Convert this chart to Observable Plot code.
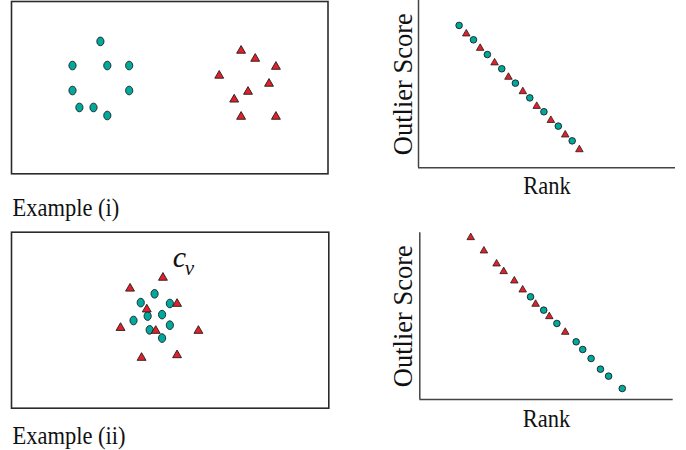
<!DOCTYPE html>
<html>
<head>
<meta charset="utf-8">
<script src="https://cdn.jsdelivr.net/npm/d3@7"></script>
<script src="https://cdn.jsdelivr.net/npm/@observablehq/plot@0.6"></script>
<style>
  html, body { margin: 0; padding: 0; background: #fff; }
  #root { position: relative; width: 686px; height: 450px; background: #fff; font-family: "Liberation Serif", "Times New Roman", serif; }
  .panel { position: absolute; }
</style>
</head>
<body>
<div id="root">
  <div class="panel" id="p1" style="left:0px;top:0px"></div>
  <div class="panel" id="p2" style="left:360px;top:0px"></div>
  <div class="panel" id="p3" style="left:0px;top:225px"></div>
  <div class="panel" id="p4" style="left:360px;top:225px"></div>
</div>
<script>
// ---------- Example (i): scatter of two separated groups ----------
const ex1CircleX = [3.09, 2.12, 3.33, 4.09, 2.12, 4.09, 2.36, 2.85, 3.33];
const ex1CircleY = [4.61, 3.77, 3.77, 3.77, 2.90, 2.90, 2.31, 2.31, 2.03];
const ex1TriX    = [7.98, 8.47, 9.19, 7.22, 8.95, 8.22, 7.74, 7.98, 9.19];
const ex1TriY    = [4.33, 4.05, 3.77, 3.46, 3.18, 2.90, 2.63, 2.03, 2.03];

// ---------- Example (i): ranked outlier scores ----------
const ex1RankPos = [1.58, 1.86, 2.14, 2.40, 2.68, 2.96, 3.24, 3.50, 3.77, 4.06, 4.33, 4.60, 4.88, 5.15, 5.44, 5.71, 5.98, 6.26];
const ex1Score   = [8.51, 8.07, 7.65, 7.21, 6.77, 6.34, 5.92, 5.48, 5.06, 4.62, 4.18, 3.74, 3.35, 2.90, 2.49, 2.03, 1.61, 1.15];
const ex1Shape   = ["C","T","C","T","C","T","C","T","C","T","C","T","C","T","C","T","C","T"];

// ---------- Example (ii): mixed cluster ----------
const ex2CircleX = [4.96, 4.48, 5.49, 4.72, 5.22, 4.23, 5.49, 4.79, 5.22];
const ex2CircleY = [3.90, 3.60, 3.57, 3.14, 3.19, 2.99, 2.83, 2.67, 2.39];
const ex2TriX    = [5.25, 4.11, 5.74, 4.69, 3.78, 5.00, 6.48, 4.51, 5.74];
const ex2TriY    = [4.49, 4.12, 3.60, 3.41, 2.78, 2.68, 2.68, 1.76, 1.85];

// ---------- Example (ii): ranked outlier scores ----------
const ex2RankPos = [2.01, 2.53, 3.03, 3.31, 3.73, 4.06, 4.37, 4.57, 4.89, 5.11, 5.41, 5.74, 6.17, 6.43, 6.76, 7.13, 7.45, 7.99];
const ex2Score   = [9.78, 8.98, 8.20, 7.74, 7.18, 6.64, 6.16, 5.78, 5.36, 5.04, 4.56, 4.10, 3.46, 3.00, 2.46, 1.82, 1.40, 0.66];
const ex2Shape   = ["T","T","T","T","T","T","C","T","C","T","C","T","C","C","C","C","C","C"];

// labels
const captions = ["Example (i)", "Example (ii)"];
const xLabel = "Rank";
const yLabel = "Outlier Score";
const centroidLabel = ["c", "v"];
const centroidPos = {c: [5.59, 4.80], v: [6.01, 4.55]};

const TEAL = "#00a99d";
const RED = "#e3202a";
const EDGE = "#1e1e1e";
const INK = "#111111";
const FONT = "Liberation Serif, Times New Roman, serif";

// slightly tall ellipse symbol (markers in the scatter panels are oval)
const ellipse = {
  draw(ctx, size) {
    const r = Math.sqrt(size / Math.PI);
    const rx = r * 0.9, ry = r * 1.08, k = 0.5523;
    ctx.moveTo(rx, 0);
    ctx.bezierCurveTo(rx, k * ry, k * rx, ry, 0, ry);
    ctx.bezierCurveTo(-k * rx, ry, -rx, k * ry, -rx, 0);
    ctx.bezierCurveTo(-rx, -k * ry, -k * rx, -ry, 0, -ry);
    ctx.bezierCurveTo(k * rx, -ry, rx, -k * ry, rx, 0);
    ctx.closePath();
  }
};

const zip = (xs, ys) => xs.map((x, i) => ({x, y: ys[i]}));
const ranked = (xs, ys, ss) => xs.map((x, i) => ({x, y: ys[i], s: ss[i]}));

function scatterPanel({circX, circY, triX, triY, caption, captionDy, margins, height, extra = []}) {
  return Plot.plot({
    width: 340,
    height,
    ...margins,
    x: {domain: [0, 11], axis: null},
    y: {domain: [0, 6], axis: null},
    style: {background: "transparent", overflow: "visible", fontFamily: FONT},
    marks: [
      Plot.frame({stroke: "#2b2b2b", strokeWidth: 1.6}),
      Plot.dot(zip(circX, circY), {x: "x", y: "y", r: 4, symbol: ellipse, fill: TEAL, stroke: EDGE, strokeWidth: 0.9}),
      Plot.dot(zip(triX, triY), {x: "x", y: "y", r: 3.3, symbol: "triangle", fill: RED, stroke: EDGE, strokeWidth: 0.9, dy: 1.2}),
      Plot.text([caption], {frameAnchor: "bottom-left", textAnchor: "start", lineAnchor: "bottom", dx: 1, dy: captionDy, fontSize: 25, fill: INK, className: "narrow"}),
      ...extra
    ]
  });
}

function rankPanel({xs, ys, ss, margins, rankDy, scoreDx}) {
  const pts = ranked(xs, ys, ss);
  return Plot.plot({
    width: 326,
    height: 225,
    ...margins,
    x: {domain: [0, 10], axis: null},
    y: {domain: [0, 10], axis: null},
    style: {background: "transparent", overflow: "visible", fontFamily: FONT},
    marks: [
      Plot.ruleX([0], {stroke: "#444", strokeWidth: 1.5}),
      Plot.ruleY([0], {stroke: "#444", strokeWidth: 1.5}),
      Plot.dot(pts.filter(d => d.s === "C"), {x: "x", y: "y", r: 3.3, symbol: "circle", fill: TEAL, stroke: EDGE, strokeWidth: 0.9}),
      Plot.dot(pts.filter(d => d.s === "T"), {x: "x", y: "y", r: 2.8, symbol: "triangle", fill: RED, stroke: EDGE, strokeWidth: 0.8, dy: 1}),
      Plot.text([xLabel], {frameAnchor: "bottom", textAnchor: "middle", lineAnchor: "bottom", dy: rankDy, fontSize: 25, fill: INK, className: "narrow"}),
      Plot.text([yLabel], {frameAnchor: "left", textAnchor: "middle", lineAnchor: "bottom", rotate: -90, dx: scoreDx, fontSize: 26.5, fill: INK})
    ]
  });
}

document.getElementById("p1").append(scatterPanel({
  circX: ex1CircleX, circY: ex1CircleY, triX: ex1TriX, triY: ex1TriY,
  caption: captions[0], captionDy: 41.7, height: 225,
  margins: {marginLeft: 11, marginRight: 12.5, marginTop: 1, marginBottom: 51.7}
}));

document.getElementById("p3").append(scatterPanel({
  circX: ex2CircleX, circY: ex2CircleY, triX: ex2TriX, triY: ex2TriY,
  caption: captions[1], captionDy: 35.3, height: 225,
  margins: {marginLeft: 11, marginRight: 11.7, marginTop: 6.7, marginBottom: 42.3},
  extra: [
    Plot.text([centroidLabel[0]], {x: () => centroidPos.c[0], y: () => centroidPos.c[1], textAnchor: "start", lineAnchor: "bottom", fontSize: 30, fontStyle: "italic", fill: INK}),
    Plot.text([centroidLabel[1]], {x: () => centroidPos.v[0], y: () => centroidPos.v[1], textAnchor: "start", lineAnchor: "bottom", fontSize: 21, fontStyle: "italic", fill: INK})
  ]
}));

document.getElementById("p2").append(rankPanel({
  xs: ex1RankPos, ys: ex1Score, ss: ex1Shape,
  margins: {marginLeft: 58, marginRight: 11, marginTop: 0, marginBottom: 57.7},
  rankDy: 26, scoreDx: -6.5
}));

document.getElementById("p4").append(rankPanel({
  xs: ex2RankPos, ys: ex2Score, ss: ex2Shape,
  margins: {marginLeft: 59.3, marginRight: 13.3, marginTop: 7.3, marginBottom: 51},
  rankDy: 27.7, scoreDx: -7.5
}));

// the reference type is horizontally condensed: squeeze horizontal labels to ~90% width
document.querySelectorAll("g.narrow text").forEach(el => {
  const len = el.getComputedTextLength();
  if (len > 0) {
    el.setAttribute("textLength", (len * 0.9).toFixed(1));
    el.setAttribute("lengthAdjust", "spacingAndGlyphs");
  }
});
</script>
</body>
</html>
